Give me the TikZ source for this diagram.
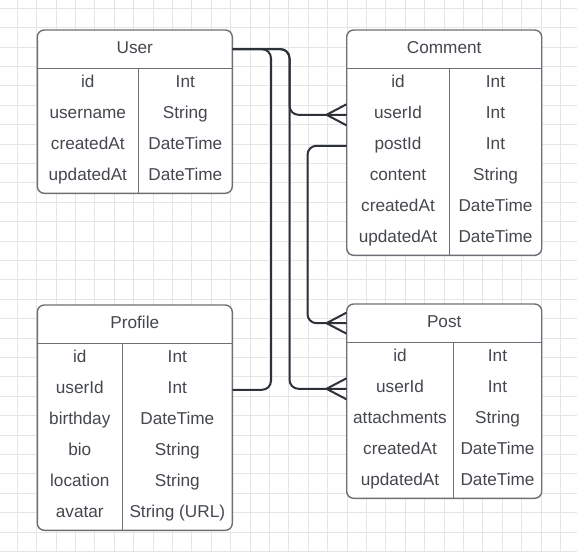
\documentclass[tikz,border=0pt]{standalone}
\usepackage{fontspec}
\setmainfont{Liberation Sans}
\usepackage{tikz}
\definecolor{gridgray}{RGB}{229,229,229}
\definecolor{boxgray}{RGB}{108,111,117}
\definecolor{textgray}{RGB}{68,72,78}
\definecolor{linkdark}{RGB}{45,49,57}
\tikzset{%
  gridline/.style={draw=gridgray, line width=1pt},% background grid
  entity/.style={draw=boxgray, fill=white, line width=1.4pt, rounded corners=7pt},% table frame
  rule/.style={draw=boxgray, line width=1.4pt},% header line and column divider
  head/.style={minimum width=195pt, minimum height=38.3pt, inner sep=0pt},% header cell
  row/.style={minimum width=195pt, minimum height=31pt, inner sep=0pt},% one field row
  field/.style={anchor=base, inner sep=0pt, text=textgray,
    font=\fontsize{17.2}{20}\selectfont},% field names, types and titles
  link/.style={draw=linkdark, line width=2pt, rounded corners=9pt}% relation lines
}
% name, left, top, divider, rows, title, fields
\newcommand*{\entitybox}[7]{
  \draw[entity] (#2,#3) rectangle ++(195,38.3+31*#5+1);
  \node[head] (#1) at (#2+97.5,#3+19.15) {};
  \node[field] (#1-title) at (#2+97.5,#3+23.3) {#6};
  \draw[rule] (#2,#3+38.3) -- ++(195,0);
  \draw[rule] (#2+#4,#3+38.3) -- ++(0,31*#5+1);
  \foreach \fld/\typ [count=\k from 0] in {#7} {
    \node[row] (#1-\fld) at (#2+97.5,#3+53.8+31*\k) {};
    \node[field] at (#2+#4/2,#3+57.7+31*\k) {\fld};
    \node[field] at (#2+#4/2+97.5,#3+57.7+31*\k) {\typ};
  }
}
\newcommand*{\crowfoot}[1]{
  \draw[link] (#1) ++(-20,0) -- ++(20,-10.5) ++(-20,10.5) -- ++(20,10.5);
}

\begin{document}
\begin{tikzpicture}[x=1pt,y=-1pt]
\useasboundingbox (0,0) rectangle (577,552);

\foreach \i in {0,...,28} {
  \draw[gridline] (17.3+19.4*\i,0) -- ++(0,552);
  \draw[gridline] (0,8.3+19.4*\i) -- ++(577,0);
}

\entitybox{user}{37.3}{30}{101}{4}{User}{id/Int,username/String,createdAt/DateTime,updatedAt/DateTime}
\entitybox{comment}{346.7}{30}{102.6}{6}{Comment}{id/Int,userId/Int,postId/Int,content/String,createdAt/DateTime,updatedAt/DateTime}
\entitybox{profile}{37.3}{305}{85}{6}{Profile}{id/Int,userId/Int,birthday/DateTime,bio/String,location/String,avatar/String (URL)}
\entitybox{post}{346.7}{304}{106.6}{5}{Post}{id/Int,userId/Int,attachments/String,createdAt/DateTime,updatedAt/DateTime}

\draw[link] (user.east) -- ++(38.5,0) |- (profile-userId.east);
\draw[link] (user.east) -- ++(57,0) |- (comment-userId.west);
\draw[link] (user.east) -- ++(57,0) |- (post-userId.west);
\draw[link] (comment-postId.west) -- ++(-39,0) |- (post.west);

\crowfoot{comment-userId.west}
\crowfoot{post-userId.west}
\crowfoot{post.west}

\end{tikzpicture}
\end{document}
